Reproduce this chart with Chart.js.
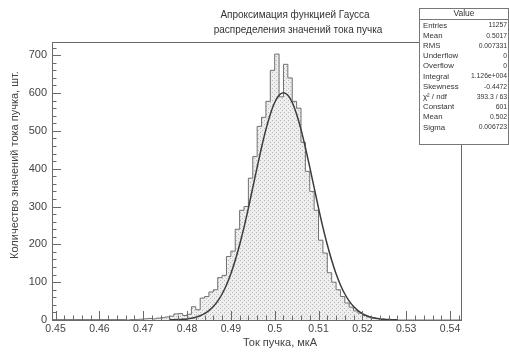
<!DOCTYPE html>
<html>
<head>
<meta charset="utf-8">
<script src="https://cdn.jsdelivr.net/npm/chart.js@4.4.0/dist/chart.umd.min.js"></script>
<style>
  html, body { margin: 0; padding: 0; background: #fff; }
  #wrap { width: 509px; height: 354px; position: relative; }
</style>
</head>
<body>
<div id="wrap"><canvas id="histChart"></canvas></div>
<script>
// histogram bins (lower edge = binStart + i * binWidth)
const binStart = 0.466;
const binWidth = 0.001;
const binCounts = [
  1, 0, 1, 1, 2, 3, 4, 3, 5, 6,
  8, 10, 16, 17, 12, 15, 35, 27, 58, 62,
  74, 80, 112, 118, 168, 182, 240, 290, 300, 375,
  432, 512, 536, 578, 660, 703, 590, 676, 640, 578,
  560, 470, 393, 340, 290, 211, 177, 125, 100, 80,
  62, 45, 34, 24, 18, 12, 8, 6, 4, 2,
  1, 0
];

// gaussian fit curve, read at 0.001 steps from fitStart
const fitStart = 0.476;
const fitValues = [
  0.3, 0.6, 1.0, 1.7, 2.8, 4.6, 7.2, 11.1, 16.7, 24.6,
  35.4, 49.9, 68.7, 92.7, 122, 158, 199, 245, 296, 350,
  404, 456, 504, 544, 575, 594, 601, 594, 575, 544,
  504, 456, 404, 350, 296, 245, 199, 158, 122, 92.7,
  68.7, 49.9, 35.4, 24.6, 16.7, 11.1, 7.2, 4.6, 2.8, 1.7,
  1.0, 0.6, 0.3
];

const xTickLabels = [0.45, 0.46, 0.47, 0.48, 0.49, 0.5, 0.51, 0.52, 0.53, 0.54];
const yTickLabels = [0, 100, 200, 300, 400, 500, 600, 700];

const titleLines = ["Апроксимация функцией Гаусса", "распределения значений тока пучка"];
const xTitle = "Ток пучка, мкА";
const yTitle = "Количество значений тока пучка, шт.";

const statsHeader = "Value";
const statsLabels = ["Entries", "Mean", "RMS", "Underflow", "Overflow", "Integral",
  "Skewness", "χ² / ndf", "Constant", "Mean", "Sigma"];
const statsValues = ["11257", "0.5017", "0.007331", "0", "0", "1.126e+004",
  "-0.4472", "393.3 / 63", "601", "0.502", "0.006723"];

const X_MIN = 0.4492, X_MAX = 0.5425, Y_MAX = 735;
const FONT = '"Liberation Sans", Arial, sans-serif';

// dotted fill like ROOT's fill style
function makePattern() {
  const c = document.createElement("canvas");
  c.width = 4; c.height = 4;
  const g = c.getContext("2d");
  g.fillStyle = "#eeeeee";
  g.fillRect(0, 0, 4, 4);
  g.fillStyle = "#b8b8b8";
  g.fillRect(0, 0, 1, 1);
  g.fillRect(2, 2, 1, 1);
  return g.createPattern(c, "repeat");
}

const histPoints = [{ x: X_MIN, y: 0 }];
binCounts.forEach((c, i) => histPoints.push({ x: binStart + i * binWidth, y: c }));
histPoints.push({ x: binStart + binCounts.length * binWidth, y: 0 });
histPoints.push({ x: X_MAX, y: 0 });

const fitPoints = fitValues.map((v, i) => ({ x: fitStart + i * 0.001, y: v }));

const rootDecor = {
  id: "rootDecor",
  afterDraw(chart) {
    const ctx = chart.ctx;
    const a = chart.chartArea;
    const xs = chart.scales.x, ys = chart.scales.y;
    ctx.save();

    // frame
    ctx.strokeStyle = "#6a6a6a";
    ctx.lineWidth = 1;
    ctx.strokeRect(Math.round(a.left) + 0.5, Math.round(a.top) + 0.5,
      Math.round(a.right - a.left), Math.round(a.bottom - a.top));

    // ticks, pointing inside
    ctx.beginPath();
    for (let v = 0.446; v <= X_MAX + 1e-9; v += 0.002) {
      if (v < X_MIN) continue;
      const px = Math.round(xs.getPixelForValue(v)) + 0.5;
      const major = Math.abs(v * 100 - Math.round(v * 100)) < 1e-6;
      ctx.moveTo(px, a.bottom);
      ctx.lineTo(px, a.bottom - (major ? 9 : 4.5));
    }
    for (let v = 0; v <= Y_MAX; v += 20) {
      const py = Math.round(ys.getPixelForValue(v)) + 0.5;
      const major = v % 100 === 0;
      ctx.moveTo(a.left, py);
      ctx.lineTo(a.left + (major ? 9 : 4.5), py);
    }
    ctx.stroke();

    // title
    ctx.fillStyle = "#333";
    ctx.font = "10px " + FONT;
    ctx.textAlign = "center";
    ctx.textBaseline = "middle";
    ctx.fillText(titleLines[0], 295, 15);
    ctx.fillText(titleLines[1], 298, 30);

    // axis titles
    ctx.fillStyle = "#444";
    ctx.font = "11px " + FONT;
    ctx.fillText(xTitle, 280, 343);
    ctx.save();
    ctx.translate(15, 165);
    ctx.rotate(-Math.PI / 2);
    ctx.fillText(yTitle, 0, 0);
    ctx.restore();

    // stats box
    const bx = 419.5, by = 8.5, bw = 89, bh = 136;
    ctx.fillStyle = "#fff";
    ctx.fillRect(bx, by, bw, bh);
    ctx.strokeStyle = "#777";
    ctx.strokeRect(bx, by, bw, bh);
    ctx.beginPath();
    ctx.moveTo(bx, 19.5);
    ctx.lineTo(bx + bw, 19.5);
    ctx.stroke();
    ctx.fillStyle = "#333";
    ctx.font = "8.5px " + FONT;
    ctx.textAlign = "center";
    ctx.fillText(statsHeader, 464, 14);
    statsLabels.forEach((lab, i) => {
      const y = 25.5 + i * 10.2;
      ctx.font = "7.8px " + FONT;
      ctx.textAlign = "left";
      ctx.fillText(lab, 423, y);
      ctx.font = "6.8px " + FONT;
      ctx.textAlign = "right";
      ctx.fillText(statsValues[i], 507, y);
    });
    ctx.restore();
  }
};

new Chart(document.getElementById("histChart"), {
  type: "line",
  data: {
    datasets: [
      {
        label: "Fit",
        data: fitPoints,
        borderColor: "#3c3c3c",
        borderWidth: 1.5,
        pointRadius: 0,
        fill: false,
        cubicInterpolationMode: "monotone",
        order: 0
      },
      {
        label: "Histogram",
        data: histPoints,
        stepped: "after",
        borderColor: "#707070",
        borderWidth: 1,
        pointRadius: 0,
        fill: "origin",
        backgroundColor: makePattern(),
        order: 1
      }
    ]
  },
  options: {
    responsive: true,
    maintainAspectRatio: false,
    animation: false,
    layout: { padding: { left: 0, right: 48, top: 42, bottom: 0 } },
    plugins: {
      legend: { display: false },
      tooltip: { enabled: false },
      title: { display: false }
    },
    scales: {
      x: {
        type: "linear",
        min: X_MIN,
        max: X_MAX,
        afterBuildTicks: s => { s.ticks = xTickLabels.map(v => ({ value: v })); },
        afterFit: s => { s.height = 34; },
        grid: { display: false, drawTicks: false },
        border: { display: false },
        ticks: {
          autoSkip: false,
          maxRotation: 0,
          padding: 3,
          color: "#444",
          font: { size: 10.5, family: FONT },
          callback: v => String(Number(v.toFixed(3)))
        }
      },
      y: {
        min: 0,
        max: Y_MAX,
        afterBuildTicks: s => { s.ticks = yTickLabels.map(v => ({ value: v })); },
        afterFit: s => { s.width = 52; },
        grid: { display: false, drawTicks: false },
        border: { display: false },
        ticks: {
          padding: 5,
          color: "#444",
          font: { size: 11, family: FONT }
        }
      }
    }
  },
  plugins: [rootDecor]
});
</script>
</body>
</html>
